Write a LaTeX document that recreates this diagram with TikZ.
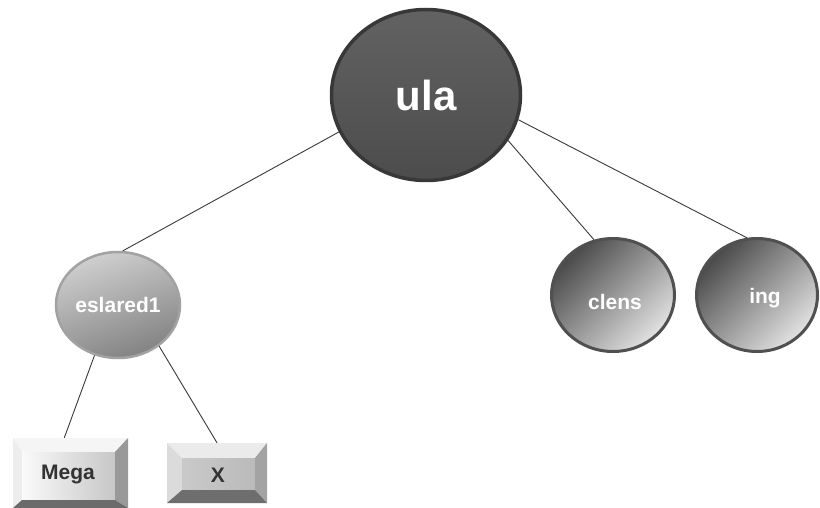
\documentclass[tikz,border=0pt]{standalone}
\usepackage{fontspec}
\setmainfont{Liberation Sans}
\usetikzlibrary{shapes.geometric}
\definecolor{linec}{HTML}{3A3A3A}
\definecolor{ulafillA}{HTML}{626262}
\definecolor{ulafillB}{HTML}{4C4C4C}
\definecolor{ulaedge}{HTML}{383838}
\definecolor{esA}{HTML}{CFCFCF}
\definecolor{esB}{HTML}{828282}
\definecolor{esedge}{HTML}{A2A2A2}
\definecolor{leafA}{HTML}{4A4A4A}
\definecolor{leafB}{HTML}{E2E2E2}
\definecolor{leafedge}{HTML}{505050}
\definecolor{btntext}{HTML}{333333}
\begin{document}
\begin{tikzpicture}[x=1pt,y=-1pt,
  conn/.style={draw=linec, line width=0.9pt},
  bubble/.style={ellipse, inner sep=0pt, text=white,
    font=\bfseries\fontsize{21}{21}\selectfont},
  leafbubble/.style={bubble, draw=leafedge, line width=3pt,
    top color=leafA, bottom color=leafB, shading angle=45},
  btext/.style={inner sep=0pt, text=white, font=\bfseries\fontsize{21}{21}\selectfont},
  btnlabel/.style={inner sep=0pt, text=btntext, font=\bfseries\fontsize{21}{21}\selectfont}]
\useasboundingbox (0,0) rectangle (820,508);
\fill[white] (0,0) rectangle (820,508);

% ---- Mega button
\fill[white!96!black] (13,438) -- (128,438) -- (115,452) -- (22,452) -- cycle;
\fill[white!93!black] (13,438) -- (22,452) -- (22,500) -- (13,508) -- cycle;
\shade[left color=white!98!black, right color=white!78!black] (22,452) rectangle (115,500);
\fill[white!60!black] (128,438) -- (115,452) -- (115,500) -- (128,508) -- cycle;
\fill[white!42!black] (13,508) -- (128,508) -- (115,500) -- (22,500) -- cycle;
\node[btnlabel, minimum width=115pt, minimum height=70pt] (Mega) at (70.5,473) {};
\node[btnlabel] (MegaT) at (68,474) {Mega};

% ---- X button
\fill[white!92!black] (167,443) -- (267,443) -- (255,458) -- (182,458) -- cycle;
\fill[white!86!black] (167,443) -- (182,458) -- (182,490) -- (167,503) -- cycle;
\shade[left color=white!79!black, right color=white!73!black] (182,458) rectangle (255,490);
\fill[white!64!black] (267,443) -- (255,458) -- (255,490) -- (267,503) -- cycle;
\fill[white!43!black] (167,503) -- (267,503) -- (255,490) -- (182,490) -- cycle;
\node[btnlabel, minimum width=100pt, minimum height=60pt] (X) at (217,473) {};
\node[btnlabel] (XT) at (218,475) {X};

% ---- ellipses
\node[bubble, draw=ulaedge, line width=3.5pt, top color=ulafillA, bottom color=ulafillB,
  minimum width=189pt, minimum height=171pt,
  font=\bfseries\fontsize{42}{42}\selectfont] (ula) at (426,95) {ula};
\node[bubble, draw=esedge, line width=2.5pt, top color=esA, bottom color=esB, shading angle=20,
  minimum width=124pt, minimum height=106pt] (eslared1) at (118,305) {eslared1};
\node[leafbubble, minimum width=123pt, minimum height=113pt] (clens) at (613,295) {};
\node[btext] (clensT) at (615,302) {clens};
\node[leafbubble, minimum width=121pt, minimum height=113pt] (ing) at (757,295) {};
\node[btext] (ingT) at (765,298) {ing};

% ---- connectors
\draw[conn] (ula.203) -- (eslared1.85);
\draw[conn] (ula.331) -- (clens.109);
\draw[conn] (ula.345) -- (ing.100);
\draw[conn] (eslared1.245) -- (Mega.100);
\draw[conn] (eslared1.315) -- (X.north);
\end{tikzpicture}
\end{document}
